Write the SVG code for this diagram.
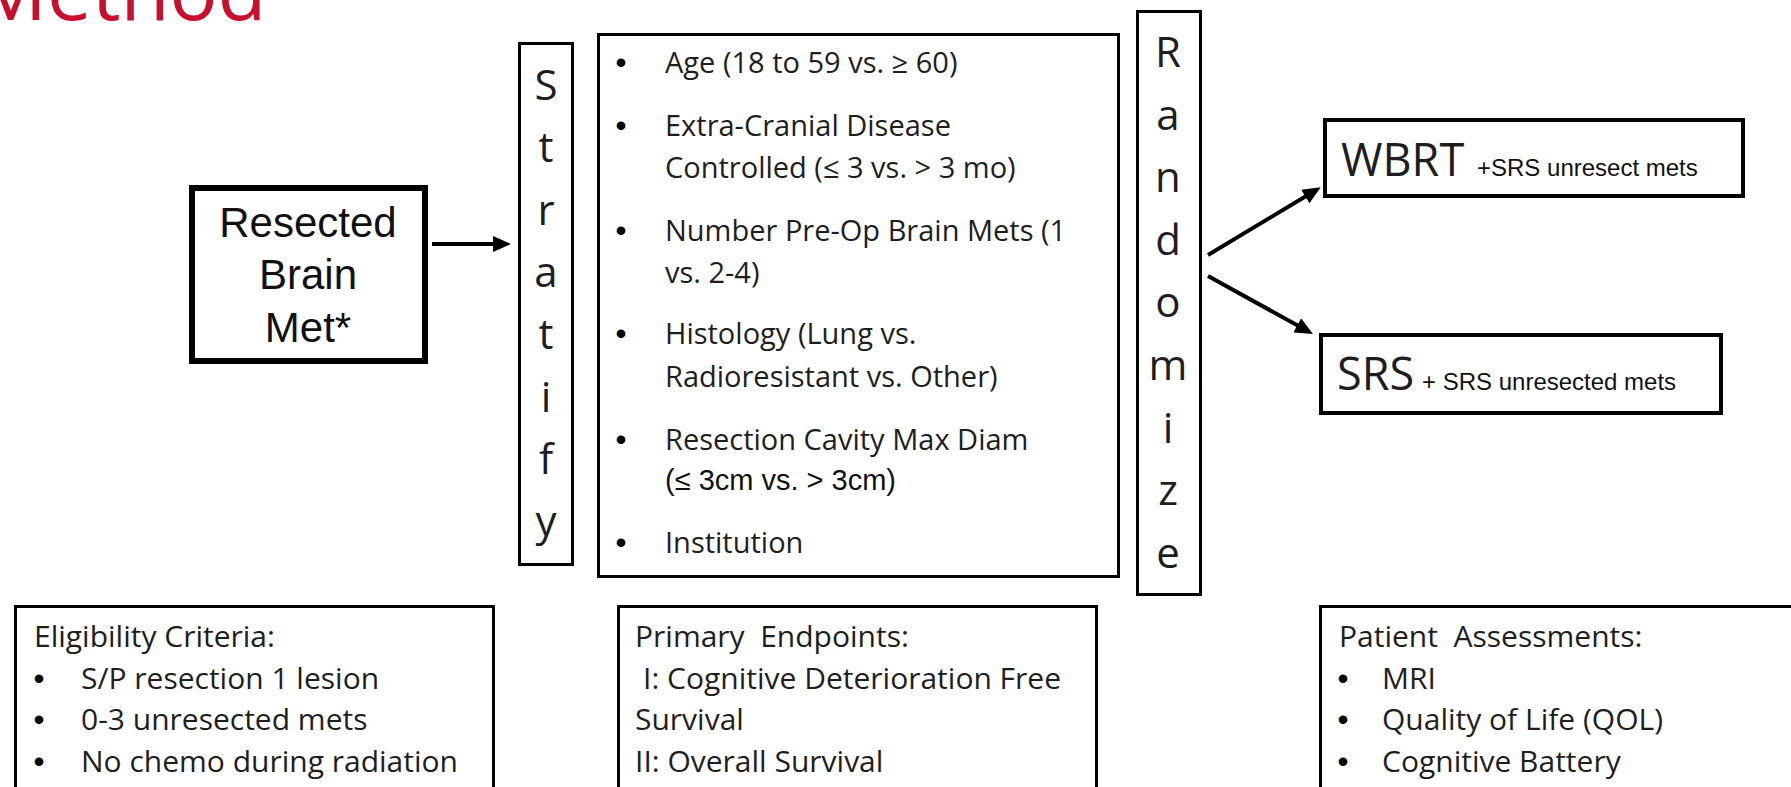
<svg xmlns="http://www.w3.org/2000/svg" width="1791" height="787" viewBox="0 0 1791 787">
<style>
.box{fill:#fff;stroke:#000;stroke-width:3}
.os{font-family:"Open Sans","Noto Sans",sans-serif;fill:#1e1e1e}
.ar{font-family:"Liberation Sans",Arial,sans-serif;fill:#111}
.mid{font-size:29px}
.bot{font-size:30px}
.vert{font-size:42px;text-anchor:middle}
.bul{text-anchor:middle;font-family:"Liberation Sans",Arial,sans-serif;font-weight:bold;font-size:30px;fill:#000}
.conn{stroke:#000;stroke-width:4;fill:none}
</style>
<defs>
<marker id="ah" markerUnits="userSpaceOnUse" markerWidth="18" markerHeight="16" refX="2" refY="8" orient="auto">
<path d="M0,0 L18,8 L0,16 z" fill="#000"/>
</marker>
</defs>
<rect width="1791" height="787" fill="#fff"/>
<text x="-25" y="20" font-family="'Open Sans','Noto Sans',sans-serif" font-size="80" fill="#C8102E">Method</text>

<g id="resected">
<rect x="192" y="188" width="233" height="173" fill="#fff" stroke="#000" stroke-width="6"/>
<text class="ar" font-size="42" text-anchor="middle"><tspan x="308" y="237">Resected</tspan><tspan x="308" y="289">Brain</tspan><tspan x="308" y="342">Met*</tspan></text>
</g>

<g id="stratify">
<rect class="box" x="519.5" y="43.5" width="53" height="521"/>
<text class="os vert"><tspan x="546" y="100">S</tspan><tspan x="546" y="162">t</tspan><tspan x="546" y="225">r</tspan><tspan x="546" y="287">a</tspan><tspan x="546" y="349">t</tspan><tspan x="546" y="412">i</tspan><tspan x="546" y="474">f</tspan><tspan x="546" y="536">y</tspan></text>
</g>

<g id="factors">
<rect class="box" x="598.5" y="34.5" width="520" height="542"/>
<text class="bul" x="621" y="73">•</text>
<text class="bul" x="621" y="136">•</text>
<text class="bul" x="621" y="241">•</text>
<text class="bul" x="621" y="344">•</text>
<text class="bul" x="621" y="450">•</text>
<text class="bul" x="621" y="553">•</text>
<g class="os mid">
<text x="665" y="73">Age (18 to 59 vs. ≥ 60)</text>
<text x="665" y="136">Extra-Cranial Disease</text>
<text x="665" y="178">Controlled (≤ 3 vs. &gt; 3 mo)</text>
<text x="665" y="241">Number Pre-Op Brain Mets (1</text>
<text x="665" y="283">vs. 2-4)</text>
<text x="665" y="344">Histology (Lung vs.</text>
<text x="665" y="387">Radioresistant vs. Other)</text>
<text x="665" y="450">Resection Cavity Max Diam</text>
<text x="665" y="553">Institution</text>
</g>
<text class="ar" font-size="29" x="665" y="490">(≤ 3cm vs. &gt; 3cm)</text>
</g>

<g id="randomize">
<rect class="box" x="1137.5" y="11.5" width="63" height="583"/>
<text class="os vert"><tspan x="1168" y="67">R</tspan><tspan x="1168" y="130">a</tspan><tspan x="1168" y="192">n</tspan><tspan x="1168" y="255">d</tspan><tspan x="1168" y="317">o</tspan><tspan x="1168" y="380">m</tspan><tspan x="1168" y="443">i</tspan><tspan x="1168" y="505">z</tspan><tspan x="1168" y="568">e</tspan></text>
</g>

<g id="wbrt">
<rect x="1325" y="120" width="418" height="76" fill="#fff" stroke="#000" stroke-width="4"/>
<text class="os" x="1341" y="176" font-size="45">WBRT</text>
<text class="ar" x="1477" y="176" font-size="24">+SRS unresect mets</text>
</g>

<g id="srs">
<rect x="1321" y="335" width="400" height="78" fill="#fff" stroke="#000" stroke-width="4"/>
<text class="os" x="1337" y="390" font-size="45">SRS</text>
<text class="ar" x="1422" y="390" font-size="24">+ SRS unresected mets</text>
</g>

<g id="eligibility">
<rect class="box" x="15.5" y="606.5" width="478" height="200"/>
<text class="bul" x="39" y="689">•</text>
<text class="bul" x="39" y="730">•</text>
<text class="bul" x="39" y="772">•</text>
<g class="os bot">
<text x="34" y="647">Eligibility Criteria:</text>
<text x="81" y="689">S/P resection 1 lesion</text>
<text x="81" y="730">0-3 unresected mets</text>
<text x="81" y="772">No chemo during radiation</text>
</g>
</g>

<g id="endpoints">
<rect class="box" x="618.5" y="606.5" width="478" height="200"/>
<g class="os bot">
<text x="635" y="647" xml:space="preserve">Primary  Endpoints:</text>
<text x="643" y="689">I: Cognitive Deterioration Free</text>
<text x="635" y="730">Survival</text>
<text x="635" y="772">II: Overall Survival</text>
</g>
</g>

<g id="assessments">
<rect class="box" x="1320.5" y="606.5" width="500" height="200"/>
<text class="bul" x="1343" y="689">•</text>
<text class="bul" x="1343" y="730">•</text>
<text class="bul" x="1343" y="772">•</text>
<g class="os bot">
<text x="1339" y="647" xml:space="preserve">Patient  Assessments:</text>
<text x="1382" y="689">MRI</text>
<text x="1382" y="730">Quality of Life (QOL)</text>
<text x="1382" y="772">Cognitive Battery</text>
</g>
</g>

<g id="connectors">
<line class="conn" x1="432" y1="244" x2="495" y2="244" marker-end="url(#ah)"/>
<line class="conn" x1="1208" y1="255" x2="1307" y2="195.5" marker-end="url(#ah)"/>
<line class="conn" x1="1208" y1="276" x2="1299" y2="326.3" marker-end="url(#ah)"/>
</g>
</svg>
